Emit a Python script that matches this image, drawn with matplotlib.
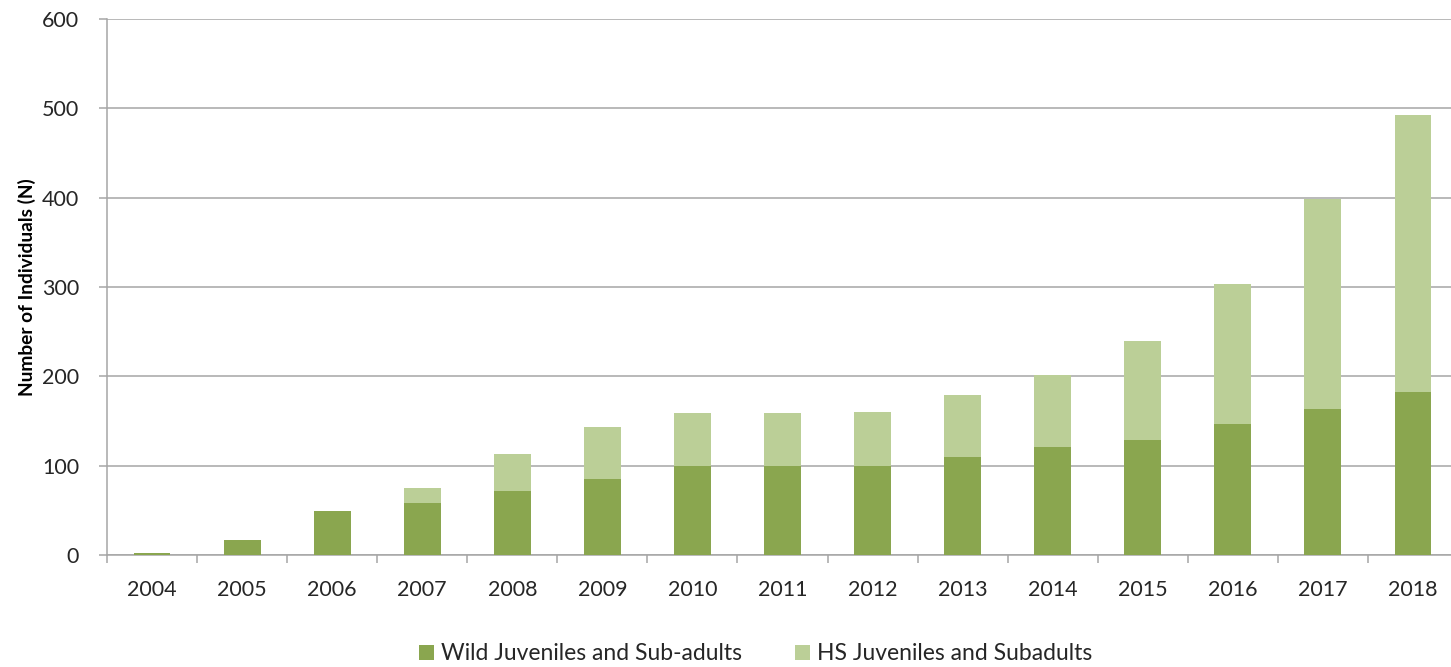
import matplotlib
matplotlib.use("Agg")
import matplotlib.pyplot as plt
import numpy as np

years = ["2004", "2005", "2006", "2007", "2008", "2009", "2010", "2011",
         "2012", "2013", "2014", "2015", "2016", "2017", "2018"]
wild = [2, 17, 49, 58, 72, 85, 100, 100, 100, 110, 121, 129, 147, 163, 182]
hs = [0, 0, 0, 17, 41, 58, 59, 59, 60, 69, 81, 111, 156, 235, 311]
yticks = [0, 100, 200, 300, 400, 500, 600]

plt.rcParams['font.family'] = ['Lato', 'DejaVu Sans']

fig = plt.figure(figsize=(14.51, 6.67), dpi=100)
ax = fig.add_axes([107/1451, 112/667, (1458-107)/1451, (555-19)/667])

x = np.arange(len(years))
wild_c = "#8aa64f"
hs_c = "#bbcf97"
txt_c = "#262626"
ax.bar(x, wild, width=0.41, color=wild_c, label="Wild Juveniles and Sub-adults", zorder=3)
ax.bar(x, hs, width=0.41, bottom=wild, color=hs_c, label="HS Juveniles and Subadults", zorder=3)

ax.set_xlim(-0.5, len(years) - 0.5)
ax.set_ylim(0, 600)
ax.set_yticks(yticks)
ax.set_yticklabels([str(v) for v in yticks], fontsize=15.5, color=txt_c)
ax.yaxis.grid(True, color="#a6a6a6", linewidth=1.1, zorder=0)
ax.set_axisbelow(True)

ax.set_xticks(x)
ax.set_xticklabels(years, fontsize=15.5, color=txt_c)
ax.set_xticks(np.arange(-0.5, len(years), 1.0), minor=True)
ax.tick_params(axis="x", which="major", length=0, pad=18)
ax.tick_params(axis="x", which="minor", length=6, color="#a6a6a6", width=1.1)
ax.tick_params(axis="y", length=6, color="#a6a6a6", width=1.1, pad=14)

for s in ["top", "right"]:
    ax.spines[s].set_visible(False)
for s in ["left", "bottom"]:
    ax.spines[s].set_color("#a6a6a6")
    ax.spines[s].set_linewidth(1.1)

ax.set_ylabel("Number of Individuals (N)", fontsize=13.8, fontweight="bold", color="#000000", labelpad=4)

leg = fig.legend(loc="center", bbox_to_anchor=(0.5207, 13/667), ncol=2, frameon=False,
                 fontsize=16.5, handlelength=0.65, handleheight=0.65, columnspacing=2.3,
                 handletextpad=0.3, borderpad=0)
for t in leg.get_texts():
    t.set_color(txt_c)

fig.savefig("out.png", dpi=100)
